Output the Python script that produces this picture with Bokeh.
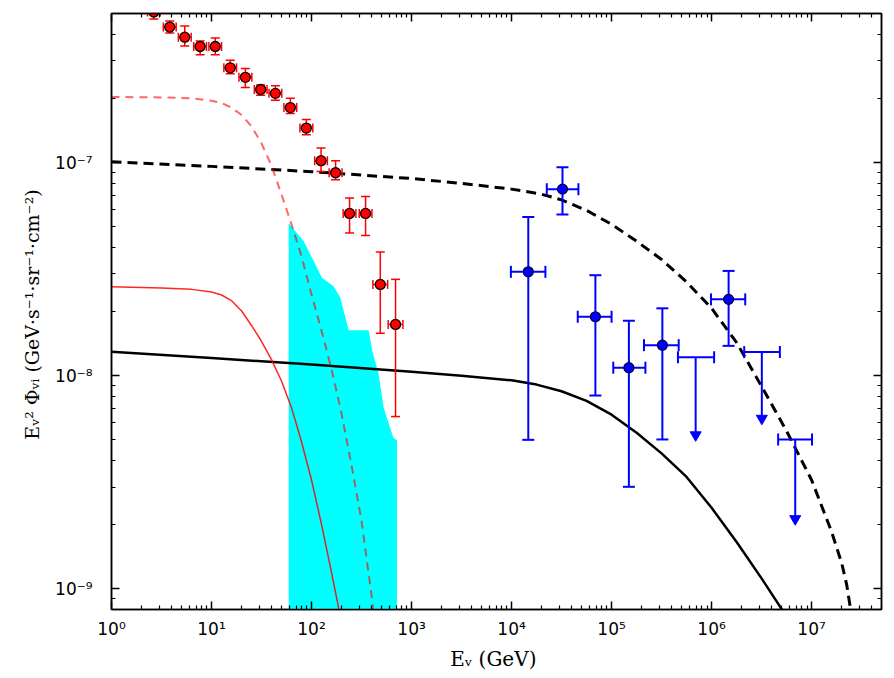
import math
from bokeh.plotting import figure
from bokeh.models import ColumnDataSource, FixedTicker, LogAxis
from bokeh.embed import file_html
from bokeh.resources import INLINE

# ---------------- axes ----------------
x_ticks = [1, 10, 100, 1e3, 1e4, 1e5, 1e6, 1e7]
x_tick_labels = ["10⁰", "10¹", "10²", "10³", "10⁴", "10⁵", "10⁶", "10⁷"]
y_ticks = [1e-9, 1e-8, 1e-7]
y_tick_labels = ["10⁻⁹", "10⁻⁸", "10⁻⁷"]
x_range = (1, 5e7)
y_range = (8e-10, 5e-7)
x_label = "Eᵥ  (GeV)"
y_label = "Eᵥ² Φᵥᵢ  (GeV·s⁻¹·sr⁻¹·cm⁻²)"

# ---------------- model curves ----------------
black_dash_E = [1, 10, 100, 1e3, 3162, 1e4, 1.93e4, 3.16e4, 5.62e4, 1e5, 1.78e5, 3.16e5, 5.62e5,
                1e6, 1.78e6, 3.16e6, 5.62e6, 1e7, 1.58e7, 2.0e7, 2.24e7, 2.51e7]
black_dash_Y = [1.009e-7, 9.59e-8, 9.06e-8, 8.41e-8, 7.98e-8, 7.50e-8, 7.13e-8, 6.68e-8, 5.96e-8,
                5.13e-8, 4.27e-8, 3.51e-8, 2.75e-8, 2.07e-8, 1.43e-8, 8.91e-9, 5.50e-9, 3.24e-9,
                1.86e-9, 1.32e-9, 1.05e-9, 7.5e-10]

black_solid_E = [1, 10, 100, 1e3, 3162, 1e4, 1.78e4, 3.16e4, 5.62e4, 1e5, 1.78e5, 3.16e5, 5.62e5,
                 1e6, 1.78e6, 3.16e6, 5.62e6]
black_solid_Y = [1.294e-8, 1.211e-8, 1.127e-8, 1.042e-8, 1.0e-8, 9.51e-9, 9.08e-9, 8.45e-9, 7.62e-9,
                 6.56e-9, 5.40e-9, 4.32e-9, 3.35e-9, 2.40e-9, 1.66e-9, 1.12e-9, 7.41e-10]

red_dash_E = [1, 3.16, 6.31, 10, 12.6, 15.8, 20, 25.1, 31.6, 39.8, 50.1, 63.1, 79.4, 100, 126, 158,
              200, 251, 316, 398, 447]
red_dash_Y = [2.03e-7, 2.02e-7, 2.0e-7, 1.95e-7, 1.90e-7, 1.81e-7, 1.67e-7, 1.48e-7, 1.23e-7, 9.66e-8,
              7.08e-8, 5.13e-8, 3.63e-8, 2.40e-8, 1.62e-8, 1.08e-8, 6.61e-9, 3.80e-9, 2.09e-9,
              9.33e-10, 5.62e-10]

red_solid_E = [1, 3.16, 6.31, 10, 12.6, 15.8, 20, 25.1, 31.6, 39.8, 50.1, 63.1, 79.4, 100, 126, 158, 200]
red_solid_Y = [2.61e-8, 2.58e-8, 2.54e-8, 2.47e-8, 2.39e-8, 2.25e-8, 2.01e-8, 1.72e-8, 1.45e-8,
               1.19e-8, 9.44e-9, 7.08e-9, 4.90e-9, 3.24e-9, 2.0e-9, 1.20e-9, 6.92e-10]

# ---------------- cyan band ----------------
band_E = [59.1, 83.4, 105, 127, 166, 194, 235, 372, 405, 468, 525, 656, 715]
band_Y = [5.2e-8, 4.27e-8, 3.45e-8, 2.88e-8, 2.63e-8, 2.32e-8, 1.635e-8, 1.635e-8, 1.31e-8,
          1.02e-8, 7.11e-9, 5.13e-9, 4.97e-9]
band_floor = 1e-10

# ---------------- red data points ----------------
red_E = [2.65, 3.82, 5.40, 7.69, 10.9, 15.4, 21.8, 31.0, 43.5, 61.4, 88.7, 124.5, 174, 240, 347, 487, 692]
red_Y = [5.08e-7, 4.32e-7, 3.87e-7, 3.50e-7, 3.50e-7, 2.78e-7, 2.51e-7, 2.20e-7, 2.11e-7, 1.81e-7,
         1.45e-7, 1.02e-7, 8.95e-8, 5.77e-8, 5.77e-8, 2.68e-8, 1.74e-8]
red_lo = [4.71e-7, 4.05e-7, 3.52e-7, 3.20e-7, 3.20e-7, 2.61e-7, 2.25e-7, 2.07e-7, 1.96e-7, 1.70e-7,
          1.35e-7, 9.08e-8, 8.3e-8, 4.67e-8, 4.54e-8, 1.58e-8, 6.43e-9]
red_hi = [5.45e-7, 4.61e-7, 4.37e-7, 3.72e-7, 3.84e-7, 3.02e-7, 2.76e-7, 2.31e-7, 2.29e-7, 2.00e-7,
          1.59e-7, 1.17e-7, 1.02e-7, 6.81e-8, 6.93e-8, 3.80e-8, 2.83e-8]
red_E_lo = [2.29, 3.30, 4.66, 6.64, 9.41, 13.3, 18.8, 26.8, 37.6, 53.0, 76.6, 107.5, 150, 207, 300, 411, 584]
red_E_hi = [3.07, 4.43, 6.26, 8.91, 12.6, 17.8, 25.3, 35.9, 50.4, 71.1, 103, 144, 202, 278, 402, 577, 820]

# ---------------- blue data points ----------------
blue_E = [1.47e4, 3.23e4, 6.89e4, 1.49e5, 3.22e5, 1.48e6]
blue_E_lo = [9.85e3, 2.25e4, 4.59e4, 1.04e5, 2.11e5, 9.86e5]
blue_E_hi = [2.18e4, 4.66e4, 1.0e5, 2.18e5, 4.69e5, 2.17e6]
blue_Y = [3.07e-8, 7.50e-8, 1.89e-8, 1.09e-8, 1.39e-8, 2.28e-8]
blue_lo = [5.0e-9, 5.7e-8, 8.07e-9, 3.01e-9, 5.02e-9, 1.38e-8]
blue_hi = [5.55e-8, 9.5e-8, 2.96e-8, 1.81e-8, 2.07e-8, 3.1e-8]

# ---------------- blue upper limits ----------------
ul_E = [6.93e5, 3.18e6, 6.86e6]
ul_E_lo = [4.61e5, 2.12e6, 4.63e6]
ul_E_hi = [1.06e6, 4.82e6, 1.01e7]
ul_Y = [1.22e-8, 1.29e-8, 5.02e-9]
ul_head = [5.27e-9, 6.3e-9, 2.13e-9]   # arrow-head centre

RED = "#ff0000"
BLUE = "#0000ff"
CYAN = "#00ffff"

p = figure(width=894, height=678, x_axis_type="log", y_axis_type="log",
           x_range=x_range, y_range=y_range, output_backend="svg", toolbar_location=None,
           min_border_left=111, min_border_right=13, min_border_top=13, min_border_bottom=69,
           background_fill_color="white", border_fill_color="white")
p.xgrid.visible = False
p.ygrid.visible = False
p.outline_line_color = "black"
p.outline_line_width = 1.5

x_minor = [m * 10.0 ** k for k in range(0, 8) for m in range(2, 10)]
y_minor = [m * 10.0 ** k for k in range(-10, -6) for m in range(2, 10)]


def style_axis(ax):
    ax.axis_line_color = "black"
    ax.axis_line_width = 1.5
    ax.major_tick_in = 8
    ax.major_tick_out = 0
    ax.minor_tick_in = 4
    ax.minor_tick_out = 0
    ax.major_tick_line_width = 1.5
    ax.minor_tick_line_width = 1.2
    ax.major_tick_line_color = "black"
    ax.minor_tick_line_color = "black"
    ax.major_label_text_font = "DejaVu Sans"
    ax.major_label_text_font_size = "17px"
    ax.major_label_text_color = "black"
    ax.axis_label_text_font = "DejaVu Serif"
    ax.axis_label_text_font_size = "19px"
    ax.axis_label_text_font_style = "normal"
    ax.axis_label_text_color = "black"


xa = p.xaxis[0]
xa.ticker = FixedTicker(ticks=x_ticks, minor_ticks=x_minor)
xa.major_label_overrides = dict(zip(x_ticks, x_tick_labels))
xa.axis_label = x_label
style_axis(xa)
xa.axis_label_text_font_size = "20px"
xa.major_label_standoff = 9
xa.axis_label_standoff = 5

ya = p.yaxis[0]
ya.ticker = FixedTicker(ticks=y_ticks, minor_ticks=y_minor)
ya.major_label_overrides = dict(zip(y_ticks, y_tick_labels))
ya.axis_label = y_label
style_axis(ya)
ya.major_label_standoff = 19
ya.axis_label_standoff = 9

top = LogAxis(ticker=FixedTicker(ticks=x_ticks, minor_ticks=x_minor))
style_axis(top)
top.major_label_text_color = None
top.major_label_standoff = 0
top.major_label_text_font_size = "1px"
p.add_layout(top, "above")
right = LogAxis(ticker=FixedTicker(ticks=y_ticks, minor_ticks=y_minor))
style_axis(right)
right.major_label_text_color = None
right.major_label_standoff = 0
right.major_label_text_font_size = "1px"
p.add_layout(right, "right")

# cyan band
p.patch(band_E + [band_E[-1], band_E[0]], band_Y + [band_floor, band_floor],
        fill_color=CYAN, line_color=None)

# model curves
p.line(black_dash_E, black_dash_Y, line_color="black", line_width=3, line_dash="10 6")
p.line(black_solid_E, black_solid_Y, line_color="black", line_width=2.5)
p.line(red_dash_E, red_dash_Y, line_color=RED, line_alpha=0.6, line_width=2, line_dash="8 6")
p.line(red_solid_E, red_solid_Y, line_color=RED, line_alpha=0.85, line_width=1.5)

# red points with error bars
rs = ColumnDataSource(dict(E=red_E, Y=red_Y, lo=red_lo, hi=red_hi, Elo=red_E_lo, Ehi=red_E_hi))
p.segment(x0="E", y0="lo", x1="E", y1="hi", source=rs, line_color=RED, line_width=1.5)
p.segment(x0="Elo", y0="Y", x1="Ehi", y1="Y", source=rs, line_color=RED, line_width=1.5)
p.scatter(x="E", y="lo", source=rs, marker="dash", size=9, line_color=RED, line_width=1.5)
p.scatter(x="E", y="hi", source=rs, marker="dash", size=9, line_color=RED, line_width=1.5)
p.scatter(x="Elo", y="Y", source=rs, marker="dash", angle=math.pi / 2, size=9, line_color=RED, line_width=1.5)
p.scatter(x="Ehi", y="Y", source=rs, marker="dash", angle=math.pi / 2, size=9, line_color=RED, line_width=1.5)
p.scatter(x="E", y="Y", source=rs, marker="circle", size=10, fill_color=RED,
          line_color="black", line_width=1.3)

# blue points with error bars
bs = ColumnDataSource(dict(E=blue_E, Y=blue_Y, lo=blue_lo, hi=blue_hi, Elo=blue_E_lo, Ehi=blue_E_hi))
p.segment(x0="E", y0="lo", x1="E", y1="hi", source=bs, line_color=BLUE, line_width=2)
p.segment(x0="Elo", y0="Y", x1="Ehi", y1="Y", source=bs, line_color=BLUE, line_width=2)
p.scatter(x="E", y="lo", source=bs, marker="dash", size=12, line_color=BLUE, line_width=2)
p.scatter(x="E", y="hi", source=bs, marker="dash", size=12, line_color=BLUE, line_width=2)
p.scatter(x="Elo", y="Y", source=bs, marker="dash", angle=math.pi / 2, size=12, line_color=BLUE, line_width=2)
p.scatter(x="Ehi", y="Y", source=bs, marker="dash", angle=math.pi / 2, size=12, line_color=BLUE, line_width=2)
p.scatter(x="E", y="Y", source=bs, marker="circle", size=10, fill_color=BLUE,
          line_color="#000040", line_width=1.2)

# upper limits
us = ColumnDataSource(dict(E=ul_E, Y=ul_Y, head=ul_head, Elo=ul_E_lo, Ehi=ul_E_hi))
p.segment(x0="Elo", y0="Y", x1="Ehi", y1="Y", source=us, line_color=BLUE, line_width=2)
p.scatter(x="Elo", y="Y", source=us, marker="dash", angle=math.pi / 2, size=12, line_color=BLUE, line_width=2)
p.scatter(x="Ehi", y="Y", source=us, marker="dash", angle=math.pi / 2, size=12, line_color=BLUE, line_width=2)
p.segment(x0="E", y0="Y", x1="E", y1="head", source=us, line_color=BLUE, line_width=2)
p.scatter(x="E", y="head", source=us, marker="inverted_triangle", size=11,
          fill_color=BLUE, line_color=BLUE, line_width=1)

open("out.html", "w").write(file_html(p, INLINE))
